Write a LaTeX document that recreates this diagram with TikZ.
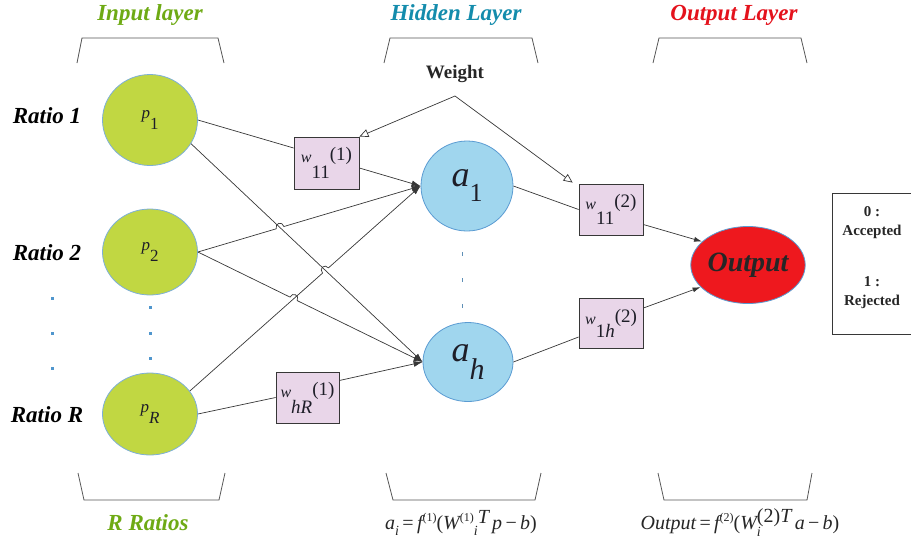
\documentclass[tikz,border=0pt]{standalone}
\usepackage{fontspec}
\setmainfont{Liberation Serif}
\usetikzlibrary{shapes.geometric,arrows.meta,calc,intersections}
\definecolor{ingreen}{RGB}{193,215,66}
\definecolor{inborder}{RGB}{125,175,215}
\definecolor{hidfill}{RGB}{160,214,238}
\definecolor{hidborder}{RGB}{90,155,210}
\definecolor{outred}{RGB}{238,24,30}
\definecolor{boxfill}{RGB}{233,214,233}
\definecolor{linegray}{RGB}{55,55,55}
\definecolor{titgreen}{RGB}{110,170,20}
\definecolor{tithid}{RGB}{20,140,172}
\definecolor{titred}{RGB}{228,18,28}
\definecolor{dotblue}{RGB}{80,150,205}
\definecolor{txtdark}{RGB}{30,30,40}
\newcommand{\hopline}[4]{%
  \coordinate (#1s) at ($(#3)!4pt!(#2)$);
  \coordinate (#1e) at ($(#3)!4pt!(#4)$);
  \draw[conn,tipfill] (#2) -- (#1s) .. controls ($(#1s)!6pt!90:(#3)$) and ($(#1e)!6pt!-90:(#3)$) .. (#1e) -- (#4);}
\newcommand{\wlab}[3]{{\fontsize{16}{16}\selectfont\textit{w}}\raisebox{-#3}{#1}\raisebox{2pt}{#2}}
\begin{document}
\begin{tikzpicture}[x=1pt,y=-1pt,
  inp/.style={ellipse,draw=inborder,line width=0.8pt,fill=ingreen,inner sep=0pt,minimum width=95pt,text=txtdark,font=\fontsize{17}{17}\selectfont},
  hid/.style={ellipse,draw=hidborder,line width=0.8pt,fill=hidfill,inner sep=0pt,text=txtdark},
  wbox/.style={rectangle,draw=linegray,line width=0.8pt,fill=boxfill,inner sep=0pt,font=\fontsize{19}{19}\selectfont,text=txtdark},
  title/.style={font=\fontsize{23}{23}\selectfont\bfseries\itshape},
  side/.style={font=\fontsize{23}{23}\selectfont\bfseries\itshape,text=black},
  conn/.style={draw=linegray,line width=0.7pt},
  tipfill/.style={-{Latex[length=9pt,width=6pt]}},
  warr/.style={draw=linegray,line width=0.7pt,-{Triangle[open,length=9pt,width=8pt]}},
  brk/.style={draw=linegray!85,line width=0.8pt},
  dotsq/.style={fill=dotblue,draw=none}]
\useasboundingbox (0,0) rectangle (911,542);

% titles
\node[title,text=titgreen] (t1) at (150,15) {Input layer};
\node[title,text=tithid] (t2) at (456,15) {Hidden Layer};
\node[title,text=titred] (t3) at (734,15) {Output Layer};

% top brackets
\draw[brk] (77,63) -- (82,38) -- (218,38) -- (224,63);
\draw[brk] (384,63) -- (390,38) -- (532,38) -- (538,63);
\draw[brk] (653,63) -- (659,38) -- (801,38) -- (807,63);
% bottom brackets
\draw[brk] (78,473) -- (84,500) -- (219,500) -- (225,473);
\draw[brk] (386,473) -- (393,500) -- (535,500) -- (541,473);
\draw[brk] (658,473) -- (664,500) -- (807,500) -- (812,473);

% side labels
\node[side] (r1) at (47,116) {Ratio 1};
\node[side] (r2) at (47,253) {Ratio 2};
\node[side] (rR) at (47,415) {Ratio R};
\foreach \yy in {298,333,368} \fill[dotsq] (50.5,\yy-1.5) rectangle (53.5,\yy+1.5);
\foreach \yy in {307,333,358} \fill[dotsq] (148.5,\yy-1.5) rectangle (151.5,\yy+1.5);
\foreach \yy in {254,280,306} \fill[dotblue!70!gray] (461.5,\yy-2) rectangle (462.5,\yy+2);

% input nodes
\node[inp,minimum height=91pt] (p1) at (150,120) {\textit{p}\raisebox{-11pt}{1}};
\node[inp,minimum height=86pt] (p2) at (150,252) {\textit{p}\raisebox{-11pt}{2}};
\node[inp,minimum height=82pt] (pR) at (150,414) {\textit{p}\raisebox{-11pt}{\textit{R}}};

% hidden nodes
\node[hid,minimum width=92pt,minimum height=90pt] (a1) at (467,186)
  {\fontsize{36}{36}\selectfont\textit{a}\raisebox{-15pt}{\fontsize{26}{26}\selectfont 1}};
\node[hid,minimum width=90pt,minimum height=79pt] (ah) at (468,362)
  {\fontsize{36}{36}\selectfont\textit{a}\raisebox{-18pt}{\fontsize{30}{30}\selectfont\textit{h}}};

% output node
\node[ellipse,draw=hidborder,line width=0.8pt,fill=outred,inner sep=0pt,minimum width=110pt,minimum height=77pt,
  font=\fontsize{28}{28}\selectfont\bfseries\itshape,text=black!85] (out) at (748,265) {Output};

% weight boxes
\node[wbox,minimum width=65pt,minimum height=52pt] (w1) at (326.5,163) {\wlab{11}{(1)}{16pt}};
\node[wbox,minimum width=63pt,minimum height=51pt] (wR) at (307.5,397.5) {\wlab{\textit{hR}}{(1)}{16pt}};
\node[wbox,minimum width=64pt,minimum height=51pt] (w2a) at (611,209.5) {\wlab{11}{(2)}{15pt}};
\node[wbox,minimum width=64pt,minimum height=50pt] (w2b) at (611,323) {\wlab{1\textit{h}}{(2)}{13pt}};

% legend
\draw[draw=linegray,line width=0.8pt] (832,193) rectangle (916,334);
\node[font=\fontsize{15}{19}\selectfont\bfseries,align=center,text=black!85] (leg) at (872,258)
  {0 :\\Accepted\\[32pt]1 :\\Rejected};

% weight label and arrows
\node[font=\fontsize{19}{19}\selectfont\bfseries,text=black!85] (wl) at (455,74) {Weight};
\coordinate (wt) at (455,96);
\draw[warr] (wt) -- (w1.north east);
\draw[warr] (wt) -- ([xshift=-6pt,yshift=1pt]w2a.north west);

% intersections for hops
\path[name path=L1] (p1.-30) -- (ah.west);
\path[name path=L2] (p2.east) -- (a1.west);
\path[name path=L3] (p2.east) -- (ah.west);
\path[name path=L4] (pR.30) -- (a1.west);
\path[name intersections={of=L1 and L2,by=x12}];
\path[name intersections={of=L1 and L4,by=x14}];
\path[name intersections={of=L3 and L4,by=x34}];

% connectors
\draw[conn] (p1.east) -- ([yshift=15pt]w1.west);
\draw[conn,tipfill] ([yshift=-5pt]w1.east) -- (a1.west);
\draw[conn,tipfill] (p1.-30) -- (ah.west);
\hopline{h2}{p2.east}{x12}{a1.west}
\hopline{h4}{pR.30}{x14}{a1.west}
\hopline{h3}{p2.east}{x34}{ah.west}
\draw[conn] (pR.east) -- (wR.west);
\draw[conn,tipfill] ([yshift=17pt]wR.east) -- (ah.west);
\draw[conn] (a1.east) -- (w2a.west);
\draw[conn,-{Latex[length=8pt,width=5pt]}] ([yshift=-15pt]w2a.east) -- (out.153);
\draw[conn] (ah.east) -- ([yshift=-14pt]w2b.west);
\draw[conn,-{Latex[length=8pt,width=5pt]}] ([yshift=15pt]w2b.east) -- (out.205);

% bottom labels
\node[side,text=titgreen] (rr) at (148,523) {R Ratios};
\node[font=\fontsize{20}{20}\selectfont\itshape,text=black!85] (f1) at (461,523)
  {a\raisebox{-6pt}{\fontsize{14}{14}\selectfont i}\,{\upshape =}\,f\raisebox{8pt}{\fontsize{12}{12}\selectfont\upshape (1)}{\upshape (}W\raisebox{8pt}{\fontsize{12}{12}\selectfont\upshape (1)}\raisebox{-6pt}{\fontsize{14}{14}\selectfont i}\raisebox{6pt}{T}\,p\,{\upshape −}\,b{\upshape )}};
\node[font=\fontsize{20}{20}\selectfont\itshape,text=black!85] (f2) at (740,523)
  {Output\,{\upshape =}\,f\raisebox{8pt}{\fontsize{12}{12}\selectfont\upshape (2)}{\upshape (}W\rlap{\raisebox{-7pt}{\fontsize{14}{14}\selectfont i}}\raisebox{7pt}{{\upshape (2)}T}\,a\,{\upshape −}\,b{\upshape )}};
\end{tikzpicture}
\end{document}
